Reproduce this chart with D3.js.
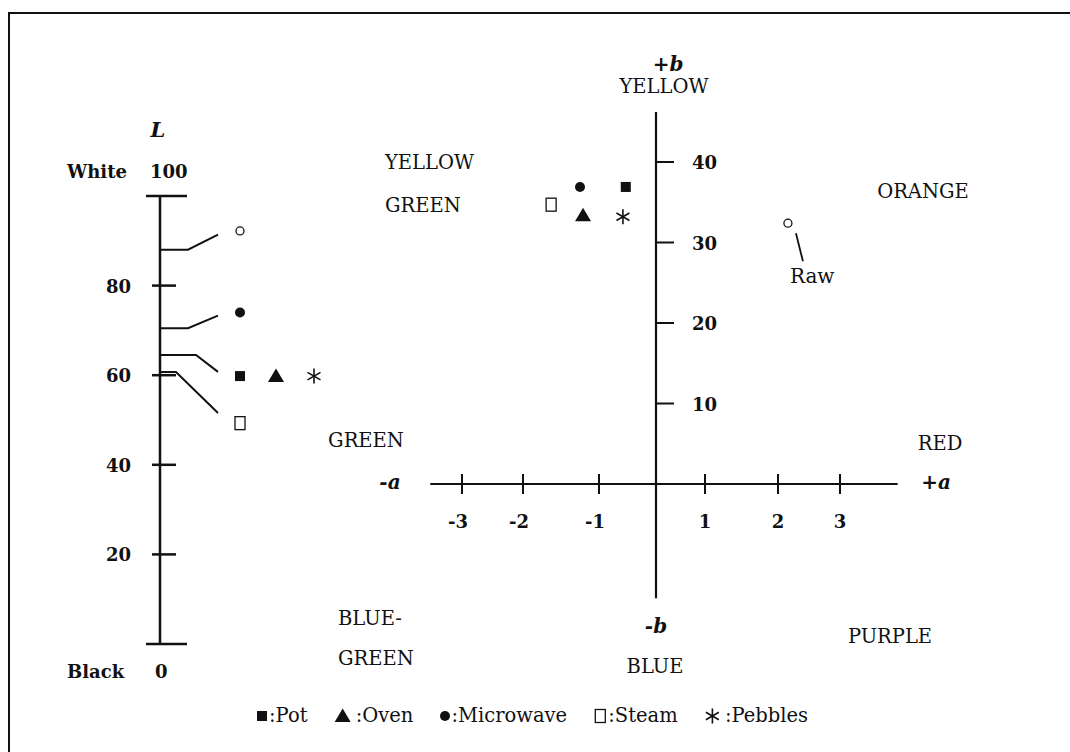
<!DOCTYPE html>
<html>
<head>
<meta charset="utf-8">
<script src="https://cdn.jsdelivr.net/npm/d3@7"></script>
<style>
body { margin: 0; background: #fff; }
svg { display: block; }
text { font-family: 'DejaVu Serif', serif; fill: #111; }
</style>
</head>
<body>
<div id="chart"></div>
<script>
// lightness scale
const lTicks = [20, 40, 60, 80];
const lEndValues = [100, 0];
const lEndNames = ['White', 'Black'];

// a / b axes
const aTicks = [-3, -2, -1, 1, 2, 3];
const bTicks = [10, 20, 30, 40];

// samples (L, a, b)
const samples = ['Raw', 'Pot', 'Oven', 'Microwave', 'Steam', 'Pebbles'];
const sampleL = [88, 64.5, 64.5, 70.5, 60.7, 64.5];
const sampleA = [2.16, -0.53, -1.21, -1.25, -1.63, -0.58];
const sampleB = [32.4, 36.9, 33.4, 36.9, 34.7, 33.2];
// marker position beside the L scale (spread apart, tied back by leader lines)
const sampleLabelL = [92.2, 59.8, 59.8, 74, 49.3, 59.8];
const sampleShape = ['openCircle', 'square', 'triangle', 'circle', 'openSquare', 'asterisk'];

const legendNames = ['Pot', 'Oven', 'Microwave', 'Steam', 'Pebbles'];

const width = 1070, height = 752;
const ink = '#111';

const svg = d3.select('#chart').append('svg')
    .attr('width', width)
    .attr('height', height);

// frame
svg.append('path')
    .attr('d', 'M9,752V13H1070')
    .attr('fill', 'none')
    .attr('stroke', ink)
    .attr('stroke-width', 2);

const halfWidth = {square: 5, openSquare: 6, circle: 4.5, openCircle: 4.5, triangle: 8, asterisk: 7.5};
// a glyph space is left after the triangle and asterisk in the key
const keyGap = {square: 2, openSquare: 2, circle: 2, openCircle: 2, triangle: 5, asterisk: 5};

function drawShape(g, shape, x, y) {
    if (shape == 'square') {
        g.append('rect').attr('x', x - 5).attr('y', y - 5).attr('width', 10).attr('height', 10).attr('fill', ink);
    } else if (shape == 'openSquare') {
        g.append('rect').attr('x', x - 5).attr('y', y - 6.5).attr('width', 10).attr('height', 13)
            .attr('fill', '#fff').attr('stroke', ink).attr('stroke-width', 1.3);
    } else if (shape == 'circle') {
        g.append('circle').attr('cx', x).attr('cy', y).attr('r', 5).attr('fill', ink);
    } else if (shape == 'openCircle') {
        g.append('circle').attr('cx', x).attr('cy', y).attr('r', 4)
            .attr('fill', '#fff').attr('stroke', ink).attr('stroke-width', 1.3);
    } else if (shape == 'triangle') {
        g.append('path').attr('d', `M${x},${y - 7.5}L${x + 8},${y + 6}L${x - 8},${y + 6}Z`).attr('fill', ink);
    } else if (shape == 'asterisk') {
        [90, 30, 150].forEach(deg => {
            const r = deg * Math.PI / 180, len = 7.5;
            g.append('line')
                .attr('x1', x - len * Math.cos(r)).attr('y1', y - len * Math.sin(r))
                .attr('x2', x + len * Math.cos(r)).attr('y2', y + len * Math.sin(r))
                .attr('stroke', ink).attr('stroke-width', 1.6);
        });
    }
}

// ---------------- L scale ----------------
const lAxisX = 160;
const yL = d3.scaleLinear().domain([0, 100]).range([644, 196]);
const gL = svg.append('g');

gL.append('line')
    .attr('x1', lAxisX).attr('x2', lAxisX)
    .attr('y1', yL(0)).attr('y2', yL(100))
    .attr('stroke', ink).attr('stroke-width', 2.5);

lEndValues.forEach(v => {
    gL.append('line')
        .attr('x1', lAxisX - 14).attr('x2', lAxisX + 27)
        .attr('y1', yL(v)).attr('y2', yL(v))
        .attr('stroke', ink).attr('stroke-width', 2.5);
});

gL.selectAll('.ltick')
    .data(lTicks)
    .join('line')
    .attr('x1', lAxisX - 8).attr('x2', lAxisX + 16)
    .attr('y1', d => yL(d)).attr('y2', d => yL(d))
    .attr('stroke', ink).attr('stroke-width', 2.5);

gL.selectAll('.ltlabel')
    .data(lTicks)
    .join('text')
    .attr('x', 131)
    .attr('y', d => yL(d) + 7)
    .attr('text-anchor', 'end')
    .style('font-size', '18px')
    .style('font-weight', 'bold')
    .text(d => d);

lEndValues.forEach((v, i) => {
    const base = v == 100 ? yL(v) - 18 : yL(v) + 34;
    gL.append('text')
        .attr('x', 67).attr('y', base)
        .style('font-size', '18px').style('font-weight', 'bold')
        .text(lEndNames[i]);
    gL.append('text')
        .attr('x', v == 100 ? 150 : 155).attr('y', base)
        .style('font-size', '18px').style('font-weight', 'bold')
        .text(v);
});

gL.append('text')
    .attr('x', 158).attr('y', 137)
    .attr('text-anchor', 'middle')
    .style('font-size', '21px').style('font-weight', 'bold').style('font-style', 'italic')
    .text('L');

// markers next to the L scale, grouped by identical L value
const lGroups = Array.from(d3.group(d3.range(samples.length), i => sampleL[i]))
    .sort((p, q) => q[0] - p[0]);
const leaderElbow = [28, 28, 36, 16];
const markX0 = 240, markStep = 36;

lGroups.forEach(([lv, idx], gi) => {
    const yMark = yL(sampleLabelL[idx[0]]);
    const yLine = yL(lv);
    const yEnd = yMark + 0.2 * (yLine - yMark);
    gL.append('path')
        .attr('d', `M${lAxisX},${yLine}H${lAxisX + leaderElbow[gi]}L${markX0 - 22},${yEnd}`)
        .attr('fill', 'none')
        .attr('stroke', ink).attr('stroke-width', 2);
    idx.forEach((i, col) => {
        drawShape(gL, sampleShape[i], markX0 + col * markStep + (col == 2 ? 2 : 0), yL(sampleLabelL[i]));
    });
});

// ---------------- a / b plane ----------------
// hand-drawn tick spacing in the original is uneven, so the a scale is piecewise
const xA = d3.scaleLinear().domain([-3, -2, -1, 0, 1, 2, 3]).range([462, 523, 599, 656, 705, 778, 840]);
const yB = d3.scaleLinear().domain([0, 40]).range([484, 162]);
const gP = svg.append('g');

gP.append('line')
    .attr('x1', xA(-3.52)).attr('x2', xA(3.93))
    .attr('y1', yB(0)).attr('y2', yB(0))
    .attr('stroke', ink).attr('stroke-width', 2);
gP.append('line')
    .attr('x1', xA(0)).attr('x2', xA(0))
    .attr('y1', yB(46.2)).attr('y2', yB(-14.2))
    .attr('stroke', ink).attr('stroke-width', 2.2);

gP.selectAll('.atick')
    .data(aTicks)
    .join('line')
    .attr('x1', d => xA(d)).attr('x2', d => xA(d))
    .attr('y1', yB(0) - 10).attr('y2', yB(0) + 10)
    .attr('stroke', ink).attr('stroke-width', 2);

gP.selectAll('.alabel')
    .data(aTicks)
    .join('text')
    .attr('x', d => xA(d) - (d < 0 ? 4 : 0))
    .attr('y', yB(0) + 44)
    .attr('text-anchor', 'middle')
    .style('font-size', '18px').style('font-weight', 'bold')
    .text(d => d);

gP.selectAll('.btick')
    .data(bTicks)
    .join('line')
    .attr('x1', xA(0)).attr('x2', xA(0) + 18)
    .attr('y1', d => yB(d)).attr('y2', d => yB(d))
    .attr('stroke', ink).attr('stroke-width', 2);

gP.selectAll('.blabel')
    .data(bTicks)
    .join('text')
    .attr('x', xA(0) + 36)
    .attr('y', d => yB(d) + 7)
    .style('font-size', '18px').style('font-weight', 'bold')
    .text(d => d);

// sample points
samples.forEach((s, i) => {
    drawShape(gP, sampleShape[i], xA(sampleA[i]), yB(sampleB[i]));
});

// raw label with pointer
const rawI = samples.indexOf('Raw');
gP.append('line')
    .attr('x1', xA(sampleA[rawI]) + 8).attr('y1', yB(sampleB[rawI]) + 10)
    .attr('x2', xA(sampleA[rawI]) + 15).attr('y2', yB(sampleB[rawI]) + 38)
    .attr('stroke', ink).attr('stroke-width', 1.8);
gP.append('text')
    .attr('x', xA(sampleA[rawI]) + 2).attr('y', yB(sampleB[rawI]) + 60)
    .style('font-size', '20px')
    .text('Raw');

// colour region names and axis ends
const regionLabels = [
    {t: 'YELLOW', x: 664, y: 93, anchor: 'middle'},
    {t: 'YELLOW', x: 385, y: 169, anchor: 'start'},
    {t: 'GREEN', x: 385, y: 212, anchor: 'start'},
    {t: 'ORANGE', x: 923, y: 198, anchor: 'middle'},
    {t: 'GREEN', x: 366, y: 447, anchor: 'middle'},
    {t: 'RED', x: 940, y: 450, anchor: 'middle'},
    {t: 'BLUE-', x: 338, y: 625, anchor: 'start'},
    {t: 'GREEN', x: 338, y: 665, anchor: 'start'},
    {t: 'BLUE', x: 655, y: 673, anchor: 'middle'},
    {t: 'PURPLE', x: 890, y: 643, anchor: 'middle'}
];
regionLabels.forEach(d => {
    gP.append('text')
        .attr('x', d.x).attr('y', d.y)
        .attr('text-anchor', d.anchor)
        .style('font-size', '19.5px')
        .text(d.t);
});

const axisEnds = [
    {t: '+b', x: 668, y: 71},
    {t: '-a', x: 390, y: 489},
    {t: '+a', x: 936, y: 489},
    {t: '-b', x: 656, y: 633}
];
axisEnds.forEach(d => {
    gP.append('text')
        .attr('x', d.x).attr('y', d.y)
        .attr('text-anchor', 'middle')
        .style('font-size', '20px').style('font-weight', 'bold').style('font-style', 'italic')
        .text(d.t);
});

// ---------------- legend ----------------
// items laid out in a row, spread evenly between the key's left and right ends
const legendLeft = 257, legendRight = 808;
const gLeg = svg.append('g');
const keyItems = legendNames.map(name => {
    const shape = sampleShape[samples.indexOf(name)];
    const g = gLeg.append('g');
    const t = g.append('text')
        .attr('y', 722)
        .style('font-size', '19.5px')
        .text(':' + name);
    const w = 2 * halfWidth[shape] + keyGap[shape] + t.node().getComputedTextLength();
    return {name, shape, g, t, w};
});
const keyGapBetween = (legendRight - legendLeft - d3.sum(keyItems, d => d.w)) / (keyItems.length - 1);
let kx = legendLeft;
keyItems.forEach(d => {
    drawShape(d.g, d.shape, kx + halfWidth[d.shape], 716);
    d.t.attr('x', kx + 2 * halfWidth[d.shape] + keyGap[d.shape]);
    kx += d.w + keyGapBetween;
});
</script>
</body>
</html>
